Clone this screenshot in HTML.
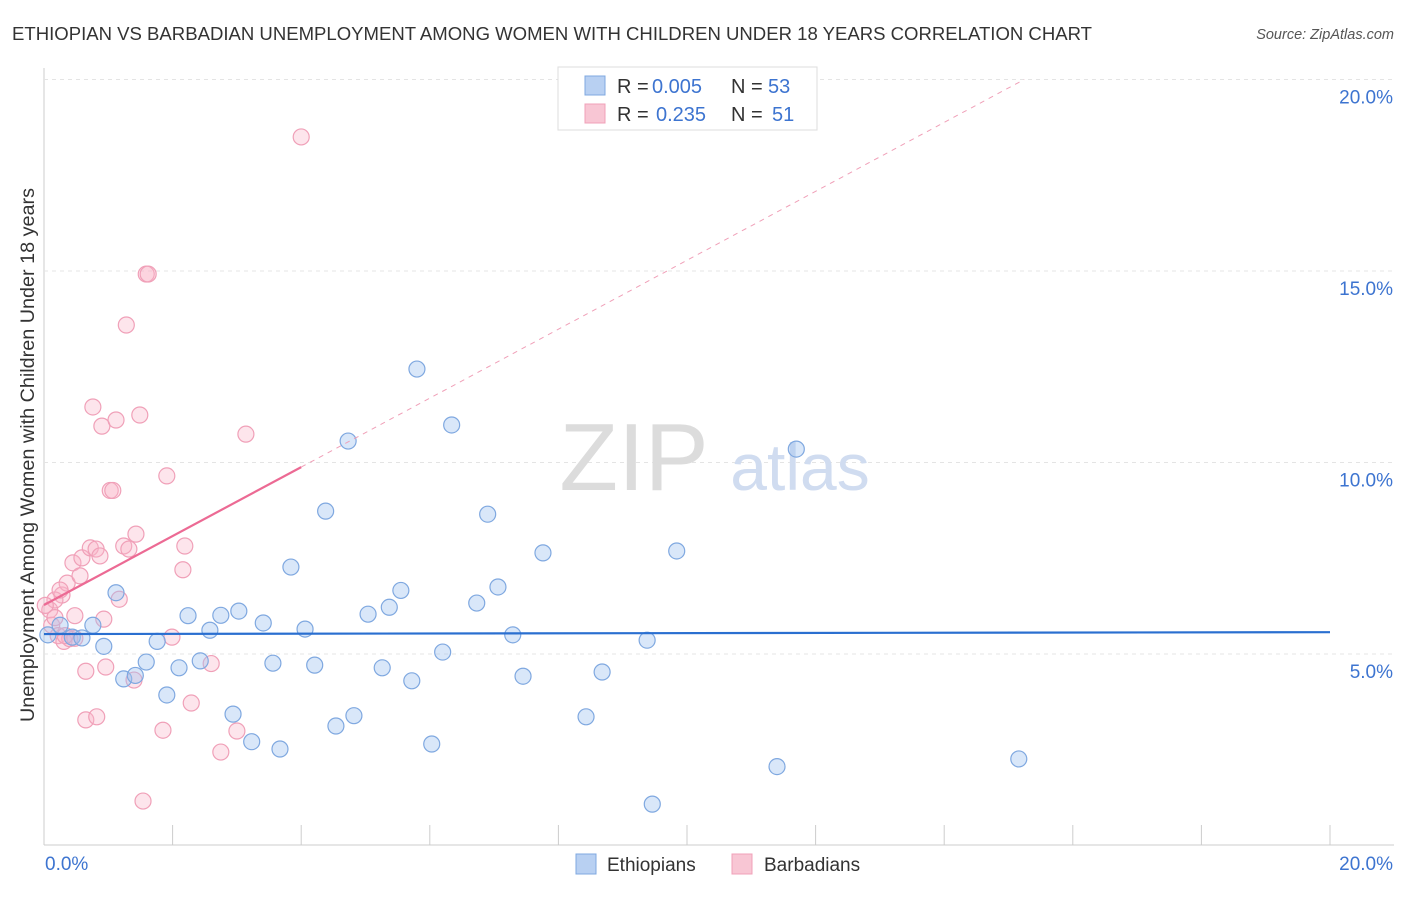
<!DOCTYPE html>
<html><head><meta charset="utf-8"><style>
body{margin:0;background:#fff;font-family:"Liberation Sans",sans-serif}
svg text{font-family:"Liberation Sans",sans-serif}
</style></head><body>
<svg id="chart" width="1406" height="892">
<text x="12" y="40" font-size="18" fill="#333" textLength="1080" lengthAdjust="spacingAndGlyphs">ETHIOPIAN VS BARBADIAN UNEMPLOYMENT AMONG WOMEN WITH CHILDREN UNDER 18 YEARS CORRELATION CHART</text>
<text x="1394" y="39" font-size="14.5" fill="#555" font-style="italic" text-anchor="end">Source: ZipAtlas.com</text>
<g id="grid"></g>
<text x="634" y="490" font-size="96" fill="#dcdcdc" font-family="Liberation Serif" text-anchor="middle">ZIP</text>
<text x="800" y="490" font-size="66" fill="#d0dcf0" text-anchor="middle">atlas</text>
<g id="marks"></g>
<text transform="translate(34,455) rotate(-90)" font-size="19" fill="#333" text-anchor="middle" textLength="534" lengthAdjust="spacingAndGlyphs">Unemployment Among Women with Children Under 18 years</text>
<g>
<rect x="558" y="67" width="259" height="63" fill="#fff" stroke="#ddd"/>
<rect x="585" y="76" width="20" height="19" fill="#b8d0f2" stroke="#7fa8e0"/>
<rect x="585" y="104" width="20" height="19" fill="#f8c6d4" stroke="#f0a0b8"/>
<text x="617" y="93" font-size="20" fill="#333">R = <tspan fill="#3d74d0" x="652">0.005</tspan><tspan x="731">N = </tspan><tspan fill="#3d74d0" x="768">53</tspan></text>
<text x="617" y="121" font-size="20" fill="#333">R = <tspan fill="#3d74d0" x="656">0.235</tspan><tspan x="731">N = </tspan><tspan fill="#3d74d0" x="772">51</tspan></text>
</g>
<g>
<rect x="576" y="854" width="20" height="20" fill="#b8d0f2" stroke="#7fa8e0"/>
<text x="607" y="871" font-size="19" fill="#333">Ethiopians</text>
<rect x="732" y="854" width="20" height="20" fill="#f8c6d4" stroke="#f0a0b8"/>
<text x="764" y="871" font-size="19" fill="#333">Barbadians</text>
</g>
</svg>
<script>
const yTicks=[5,10,15,20];
const yTickLabels=["5.0%","10.0%","15.0%","20.0%"];
const xTicks=[0,2,4,6,8,10,12,14,16,18,20];
const ethX=[0.06,0.25,0.44,0.59,0.76,0.93,1.12,1.24,1.42,1.59,1.76,1.91,2.1,2.24,2.43,2.58,2.75,2.94,3.03,3.23,3.41,3.56,3.67,3.84,4.06,4.21,4.38,4.54,4.73,4.82,5.04,5.26,5.37,5.55,5.72,5.8,6.03,6.2,6.34,6.73,6.9,7.06,7.29,7.45,7.76,8.43,8.68,9.38,9.46,9.84,11.4,11.7,15.16];
const ethY=[5.5,5.75,5.44,5.42,5.75,5.2,6.6,4.35,4.44,4.79,5.33,3.93,4.64,6.0,4.82,5.62,6.01,3.43,6.12,2.71,5.81,4.76,2.52,7.27,5.65,4.71,8.73,3.12,10.56,3.39,6.04,4.64,6.22,6.66,4.3,12.44,2.65,5.05,10.98,6.33,8.65,6.75,5.5,4.42,7.64,3.36,4.53,5.36,1.08,7.69,2.06,10.35,2.26];
const barX=[0.09,0.12,0.17,0.22,0.28,0.31,0.36,0.4,0.45,0.48,0.56,0.59,0.65,0.65,0.72,0.76,0.81,0.82,0.87,0.9,0.93,0.96,1.03,1.07,1.12,1.17,1.24,1.28,1.32,1.4,1.43,1.49,1.54,1.59,1.62,1.85,1.91,1.99,2.16,2.19,2.29,2.6,2.75,3.0,3.14,4.0,0.17,0.25,0.02,0.48,0.33];
const barY=[6.15,5.75,5.95,5.48,6.54,5.33,6.85,5.4,7.38,6.0,7.04,7.51,3.28,4.55,7.77,11.45,7.74,3.36,7.56,10.95,5.91,4.66,9.27,9.27,11.11,6.43,7.82,13.59,7.74,4.32,8.13,11.24,1.16,14.92,14.92,3.01,9.65,5.44,7.2,7.82,3.72,4.75,2.44,2.99,10.74,18.5,6.41,6.67,6.27,5.41,5.48];
const ethFit=[5.52,0.0025];
const barFit=[6.28,0.9];
const X=v=>44+v*64.3, Y=v=>845.5-v*38.3;
const NS="http://www.w3.org/2000/svg";
const grid=document.getElementById('grid'), marks=document.getElementById('marks');
function mk(p,tag,a){const e=document.createElementNS(NS,tag);for(const k in a)e.setAttribute(k,a[k]);p.appendChild(e);return e;}
let ax=mk(grid,'line',{x1:44,y1:68,x2:44,y2:845,stroke:'#ccc'});


let bx=mk(grid,'line',{x1:44,y1:845,x2:1394,y2:845,stroke:'#ccc'});


yTicks.forEach((t,i)=>{
 const g=mk(grid,'line',{x1:44,x2:1394,y1:Y(t),y2:Y(t),stroke:'#e4e4e4','stroke-dasharray':'4,4'});
 
 
 const tx=mk(grid,'text',{x:1393,y:Y(t)+24,'font-size':19,fill:'#3d74d0','text-anchor':'end'});
 tx.textContent=yTickLabels[i];
 
 
});
xTicks.forEach(t=>{
 const l=mk(grid,'line',{x1:X(t),x2:X(t),y1:825,y2:845,stroke:'#ccc'});
 
 
});
let x0=mk(grid,'text',{x:45,y:870,'font-size':19,fill:'#3d74d0'});x0.textContent='0.0%';


let x1=mk(grid,'text',{x:1393,y:870,'font-size':19,fill:'#3d74d0','text-anchor':'end'});x1.textContent='20.0%';


barX.forEach((v,i)=>{
 const c=mk(marks,'circle',{cx:X(v),cy:Y(barY[i]),r:8,fill:'rgba(248,180,200,0.35)',stroke:'#f0a0b8','stroke-width':1.2});
 
 
});
ethX.forEach((v,i)=>{
 const c=mk(marks,'circle',{cx:X(v),cy:Y(ethY[i]),r:8,fill:'rgba(160,195,240,0.4)',stroke:'#7fa8e0','stroke-width':1.2});
 
 
});
const ebl=mk(marks,'line',{x1:X(0),y1:Y(ethFit[0]),x2:X(20),y2:Y(ethFit[0]+ethFit[1]*20),stroke:'#2a6fd0','stroke-width':2.2});


const bxEnd=(20-barFit[0])/barFit[1];
const bd=mk(marks,'line',{x1:X(4),y1:Y(barFit[0]+barFit[1]*4),x2:X(bxEnd),y2:Y(20),stroke:'#f0a0b8','stroke-width':1,'stroke-dasharray':'5,5'});


const bl=mk(marks,'line',{x1:X(0),y1:Y(barFit[0]),x2:X(4),y2:Y(barFit[0]+barFit[1]*4),stroke:'#ec6a94','stroke-width':2.2});


</script>
</body></html>
